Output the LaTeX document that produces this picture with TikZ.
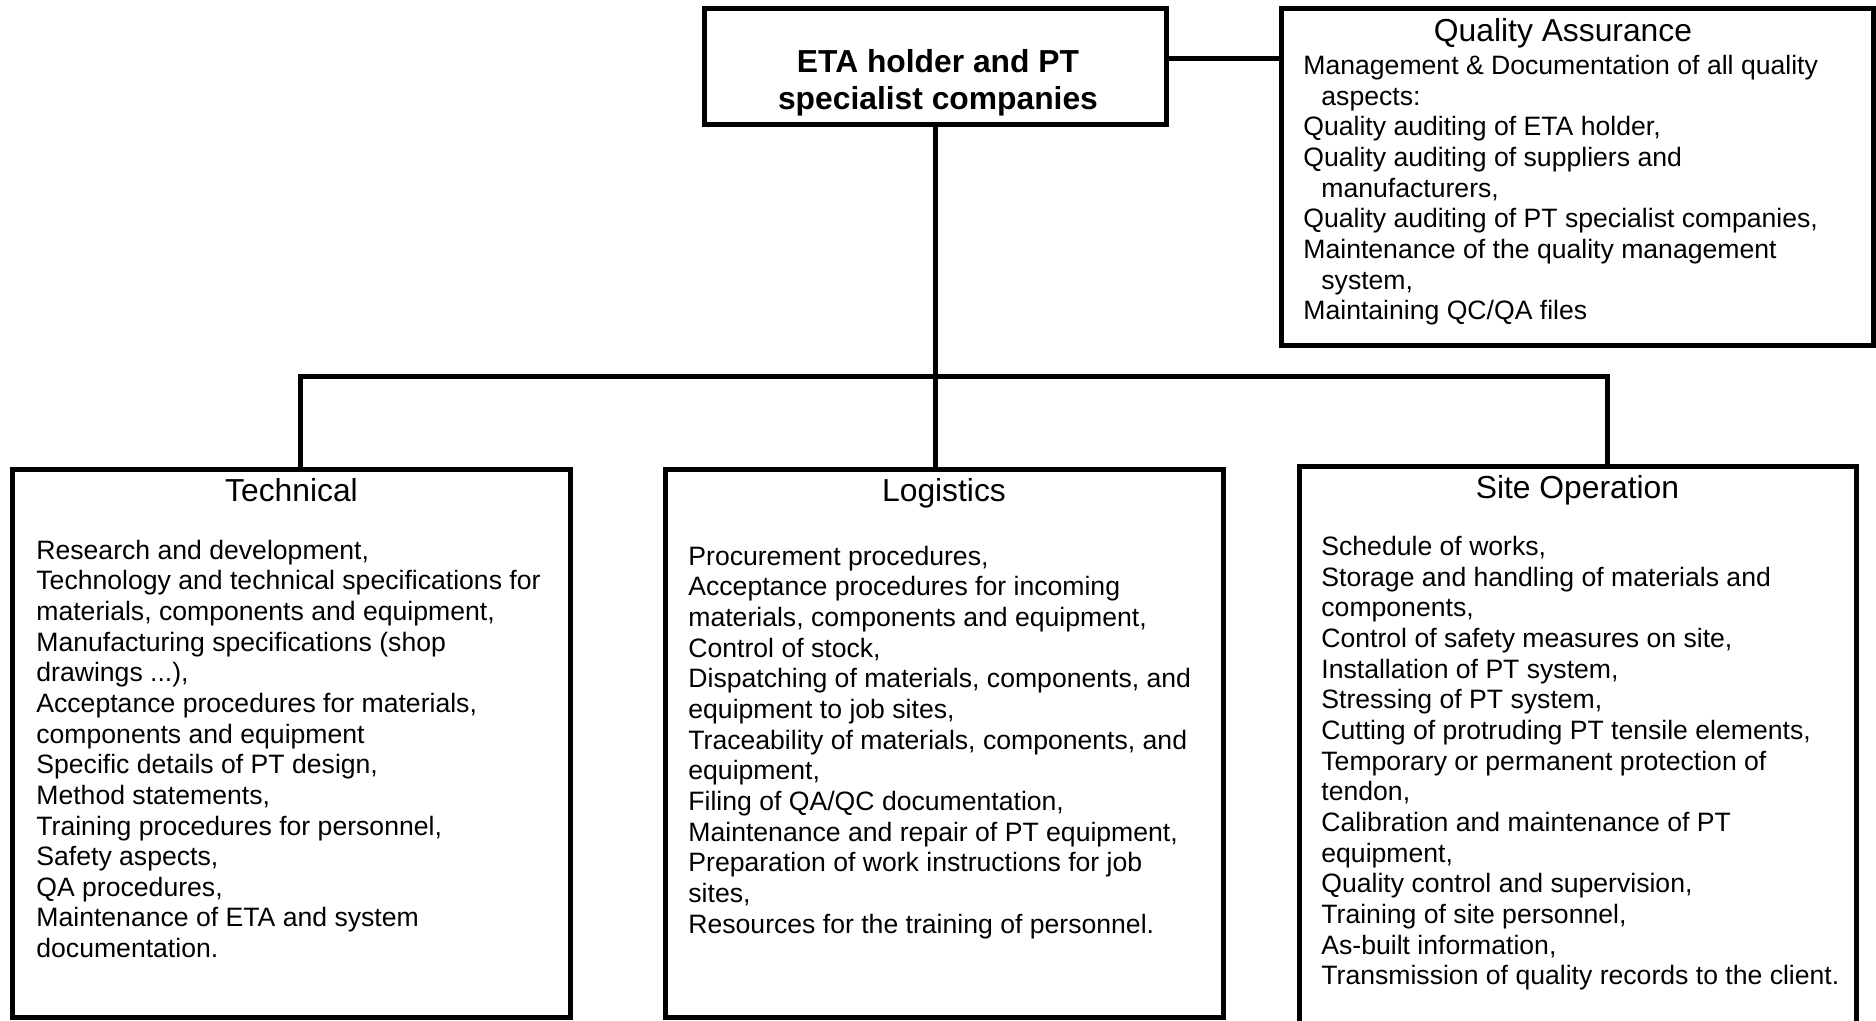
\documentclass[tikz,border=0pt]{standalone}
\usepackage{fontspec}
\setmainfont{Liberation Sans}
\usetikzlibrary{fit}

\begin{document}
\begin{tikzpicture}[x=0.5pt,y=-0.5pt]
\tikzset{mainline/.style={line width=2.5pt,color=black},
  boxnode/.style={mainline,draw,rectangle,inner sep=0pt,outer sep=0pt},
  headtext/.style={font=\fontsize{15.9}{18.5}\selectfont,inner sep=0pt,anchor=base},
  bodytext/.style={font=\fontsize{13.3}{15.33}\selectfont,inner sep=0pt,anchor=north west,align=left}};

\pgfmathsetmacro{\busy}{376.7};
\pgfmathsetmacro{\qahang}{9};

\useasboundingbox (0,0) rectangle (1876,1021);
\clip (0,0) rectangle (1876,1021);

% boxes
\node[boxnode, fit={(704.7,8.3) (1166,124.7)}] (top) {};
\node[boxnode, fit={(1281.3,8.3) (1873,346)}] (qa) {};
\node[boxnode, fit={(12.5,469.7) (570.5,1017)}] (tech) {};
\node[boxnode, fit={(665,470) (1223,1017)}] (log) {};
\node[boxnode, fit={(1299,466.7) (1856,1040)}] (site) {};

% texts
\node[headtext,font=\fontsize{15.9}{18.5}\selectfont\bfseries,anchor=north,align=center] (toplabel) at (938,49)
  {ETA holder and PT\\specialist companies};

\node[headtext] (qatitle) at (1563,41.3) {Quality Assurance};
\node[bodytext] (qabody) at (1303,54.8)
  {Management \& Documentation of all quality\\
   \hspace*{\qahang pt}aspects:\\
   Quality auditing of ETA holder,\\
   Quality auditing of suppliers and\\
   \hspace*{\qahang pt}manufacturers,\\
   Quality auditing of PT specialist companies,\\
   Maintenance of the quality management\\
   \hspace*{\qahang pt}system,\\
   Maintaining QC/QA files};

\node[headtext] (techtitle) at (291.5,502) {Technical};
\node[bodytext] (techbody) at (36,539.4)
  {Research and development,\\
   Technology and technical specifications for\\
   materials, components and equipment,\\
   Manufacturing specifications (shop\\
   drawings ...),\\
   Acceptance procedures for materials,\\
   components and equipment\\
   Specific details of PT design,\\
   Method statements,\\
   Training procedures for personnel,\\
   Safety aspects,\\
   QA procedures,\\
   Maintenance of ETA and system\\
   documentation.};

\node[headtext] (logtitle) at (944,502) {Logistics};
\node[bodytext] (logbody) at (688,545.5)
  {Procurement procedures,\\
   Acceptance procedures for incoming\\
   materials, components and equipment,\\
   Control of stock,\\
   Dispatching of materials, components, and\\
   equipment to job sites,\\
   Traceability of materials, components, and\\
   equipment,\\
   Filing of QA/QC documentation,\\
   Maintenance and repair of PT equipment,\\
   Preparation of work instructions for job\\
   sites,\\
   Resources for the training of personnel.};

\node[headtext] (sitetitle) at (1577.5,498.4) {Site Operation};
\node[bodytext] (sitebody) at (1321,536)
  {Schedule of works,\\
   Storage and handling of materials and\\
   components,\\
   Control of safety measures on site,\\
   Installation of PT system,\\
   Stressing of PT system,\\
   Cutting of protruding PT tensile elements,\\
   Temporary or permanent protection of\\
   tendon,\\
   Calibration and maintenance of PT\\
   equipment,\\
   Quality control and supervision,\\
   Training of site personnel,\\
   As-built information,\\
   Transmission of quality records to the client.};

% connectors
\coordinate (qalink) at ([yshift=4.1pt]top.east);
\draw[mainline] (qalink) -- (qalink -| qa.west);
\draw[mainline] (top.south) -- (top.south |- log.north);
\coordinate (techdrop) at (300.7,\busy);
\coordinate (sitedrop) at (1607,\busy);
\draw[mainline] (tech.north -| techdrop) |- (sitedrop) -- (site.north -| sitedrop);
\end{tikzpicture}
\end{document}
